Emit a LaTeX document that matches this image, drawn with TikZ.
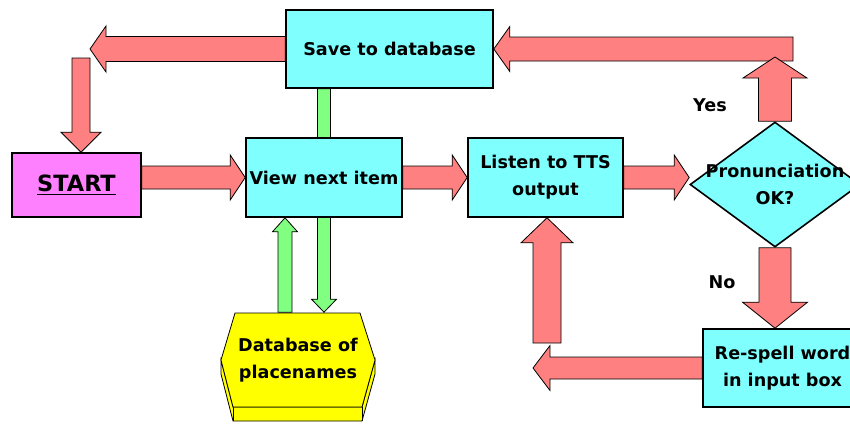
\documentclass[tikz,border=0pt]{standalone}
\usepackage{fontspec}
\setmainfont{DejaVu Sans}
\usetikzlibrary{calc,shapes.geometric,backgrounds}
\definecolor{boxcyan}{HTML}{80FFFF}
\definecolor{startpink}{HTML}{FF80FF}
\definecolor{arrowred}{HTML}{FF8080}
\definecolor{arrowgreen}{HTML}{80FF80}
\definecolor{dbyellow}{HTML}{FFFF00}
\tikzset{every picture/.style = {x=0.5pt, y=-0.5pt, line width=0.8pt}}
\tikzset{box/.style = {draw, fill=boxcyan, align=center, inner sep=0, font=\bfseries\fontsize{8.8}{13.5}\selectfont}}
\tikzset{answer/.style = {font=\bfseries\fontsize{8.8}{13.5}\selectfont}}
\tikzset{redarrow/.style = {draw, fill=arrowred}}
\tikzset{greenarrow/.style = {draw, fill=arrowgreen}}

% [style]{from}{to}{half shaft}{half head}{head length}
\newcommand{\blockarrow}[6][]{%
  \coordinate (ba-s) at (#2);
  \coordinate (ba-e) at (#3);
  \coordinate (ba-c) at ($(ba-e)!#6!(ba-s)$);
  \path[#1] ($(ba-s)!#4!90:(ba-e)$) -- ($(ba-c)!#4!90:(ba-e)$)
    -- ($(ba-c)!#5!90:(ba-e)$) -- (ba-e) -- ($(ba-c)!#5!-90:(ba-e)$)
    -- ($(ba-c)!#4!-90:(ba-e)$) -- ($(ba-s)!#4!-90:(ba-e)$) -- cycle;
}

\begin{document}
\begin{tikzpicture}
  \useasboundingbox (0,0) rectangle (850,424);
  \clip (0,0) rectangle (850,424);

  \node[box, minimum width=103.5pt, minimum height=39pt] (save) at (389.5,49) {Save to database};
  \node[box, fill=startpink, minimum width=64.5pt, minimum height=32pt,
    font=\bfseries\fontsize{11.2}{13.5}\selectfont] (start) at (76.5,185) {\underline{START}};
  \node[box, minimum width=78pt, minimum height=39.5pt] (view) at (324,177.5) {View next item};
  \node[box, minimum width=77.5pt, minimum height=39.5pt] (listen) at (545.5,177.5) {Listen to TTS\\output};
  \node[box, shape=diamond, minimum width=85pt, minimum height=62.5pt] (check) at (775,184.5)
    {\makebox[0pt]{Pronunciation}\\\makebox[0pt]{OK?}};
  \node[box, minimum width=79.5pt, minimum height=39pt] (respell) at (782.5,368) {Re-spell word\\in input box};
  \node[box, draw=none, fill=none, minimum width=77pt, minimum height=47pt] (db) at (298,360) {Database of\\placenames};
  \node[answer] (yes) at (710,105) {Yes};
  \node[answer] (no) at (722,282) {No};

  \coordinate (yesend) at (793,49);
  \coordinate (yestip) at (775,57);
  \coordinate (backtip) at (90,49);
  \coordinate (backdown) at (81,58);
  \coordinate (redotip) at (533,368);
  \coordinate (redoup) at (547,343);
  \coordinate (dbup) at ($(db.north)+(-13,0)$);

  % database and link behind the boxes
  \begin{pgfonlayer}{background}
    \filldraw[fill=dbyellow] (221,360) -- (221,374) -- (233,421) -- (362,421)
      -- (375,374) -- (375,360) -- (362,407) -- (233,407) -- cycle;
    \draw (233,407) -- (233,421) (362,407) -- (362,421);
    \filldraw[fill=dbyellow] (235,313) -- (360,313) -- (375,360) -- (362,407)
      -- (233,407) -- (221,360) -- cycle;
    \blockarrow[greenarrow]{view |- save.south}{view |- db.north}{3.25pt}{6.25pt}{6.5pt}
  \end{pgfonlayer}

  \blockarrow[greenarrow]{dbup}{dbup |- view.south}{3.5pt}{6.25pt}{7pt}
  \blockarrow[redarrow]{yesend}{save.east}{6pt}{11.25pt}{8pt}
  \blockarrow[redarrow]{check.north}{yestip}{8.25pt}{16pt}{10.5pt}
  \blockarrow[redarrow]{save.west}{backtip}{6.25pt}{11.5pt}{8pt}
  \blockarrow[redarrow]{backdown}{backdown |- start.north}{4.5pt}{10pt}{10pt}
  \blockarrow[redarrow]{start.east |- view.west}{view.west}{5.75pt}{11.25pt}{7.5pt}
  \blockarrow[redarrow]{view.east}{listen.west}{5.75pt}{11.25pt}{7.5pt}
  \blockarrow[redarrow]{listen.east}{check.west |- listen.east}{5.75pt}{11.25pt}{7.5pt}
  \blockarrow[redarrow]{check.south}{check.south |- respell.north}{8pt}{16.25pt}{13pt}
  \blockarrow[redarrow]{respell.west}{redotip}{5.5pt}{11.25pt}{8.5pt}
  \blockarrow[redarrow]{redoup}{redoup |- listen.south}{7pt}{13pt}{12.5pt}
\end{tikzpicture}
\end{document}
